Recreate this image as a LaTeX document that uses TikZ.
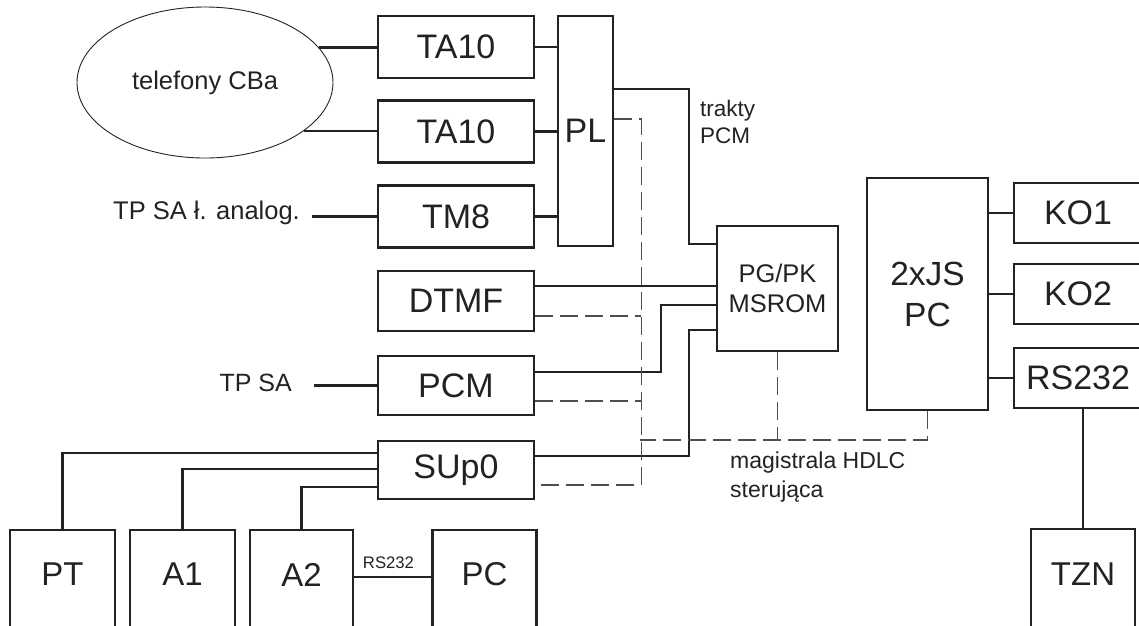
\documentclass[tikz,border=0pt]{standalone}
\usepackage{fontspec}
\setmainfont{Liberation Sans}
\usetikzlibrary{shapes.geometric,calc}
\definecolor{ink}{HTML}{222222}
\tikzset{
  box/.style={draw=ink, line width=2.4pt, rectangle, inner sep=0pt, text=ink, font=\fontsize{34}{40}\selectfont},
  wire/.style={draw=ink, line width=2.4pt},
  bus/.style={draw=ink!80, line width=1.1pt, dash pattern=on 18pt off 7pt},
  lbl/.style={text=ink, inner sep=0pt},
}
\begin{document}
\begin{tikzpicture}[x=1pt,y=-1pt]
\useasboundingbox (0,0) rectangle (1139,625);
% ellipse
\node[draw=ink, line width=0.9pt, ellipse, minimum width=256, minimum height=151, inner sep=0pt, text=ink, font=\fontsize{25.5}{30}\selectfont] (ell) at (205,82.5) {telefony CBa};
% left column
\node[box, minimum width=156, minimum height=62] (ta1) at (456,47) {TA10};
\node[box, minimum width=156, minimum height=62] (ta2) at (456,131.5) {TA10};
\node[box, minimum width=156, minimum height=62] (tm8) at (456,216.5) {TM8};
\node[box, minimum width=55, minimum height=230] (pl) at (585.5,131) {PL};
\node[box, minimum width=156, minimum height=60] (dtmf) at (456,301) {DTMF};
\node[box, minimum width=156, minimum height=59] (pcm) at (456,385.5) {PCM};
\node[box, minimum width=156, minimum height=58] (sup) at (456,470) {SUp0};
% centre
\node[box, minimum width=121, minimum height=125, align=center, font=\fontsize{25.5}{30}\selectfont] (pg) at (777.5,288.5) {PG/PK\\MSROM};
\node[box, minimum width=121, minimum height=232, align=center, font=\fontsize{33.5}{41}\selectfont] (js) at (927.5,294) {2xJS\\PC};
% right column
\node[box, minimum width=128, minimum height=60] (ko1) at (1078,213) {KO1};
\node[box, minimum width=128, minimum height=60] (ko2) at (1078,294) {KO2};
\node[box, minimum width=128, minimum height=60] (rs) at (1078,378) {RS232};
\node[box, minimum width=104, minimum height=130, anchor=north] (tzn) at (1083,528) {};
\node[lbl, font=\fontsize{33}{40}\selectfont] (tznt) at (1083,574.5) {TZN};
% bottom boxes
\node[box, minimum width=105, minimum height=130, anchor=north] (pt) at (62.5,529) {};
\node[box, minimum width=105, minimum height=130, anchor=north] (a1) at (182.5,529) {};
\node[box, minimum width=103, minimum height=130, anchor=north] (a2) at (301.5,529) {};
\node[box, minimum width=104, minimum height=130, anchor=north] (pc) at (484.5,529) {};
\node[lbl, font=\fontsize{33}{40}\selectfont] (ptt) at (62.5,574.5) {PT};
\node[lbl, font=\fontsize{33}{40}\selectfont] (a1t) at (182.5,574.5) {A1};
\node[lbl, font=\fontsize{33}{40}\selectfont] (a2t) at (301.5,574.5) {A2};
\node[lbl, font=\fontsize{33}{40}\selectfont] (pct) at (484.5,574.5) {PC};
% free labels
\node[lbl, anchor=east, font=\fontsize{25.5}{30}\selectfont] (tpa) at (300,213) {TP SA ł. analog.};
\node[lbl, anchor=east, font=\fontsize{25}{30}\selectfont] (tps) at (292,383) {TP SA};
\node[lbl, anchor=north west, align=left, font=\fontsize{22.5}{26.6}\selectfont] (trakty) at (700,100) {trakty\\PCM};
\node[lbl, anchor=north west, align=left, font=\fontsize{23}{29}\selectfont] (hdlc) at (730,452) {magistrala HDLC\\sterująca};
\node[lbl, font=\fontsize{16.7}{20}\selectfont] (rslbl) at (388.5,563) {RS232};
% solid connectors
\draw[wire] (ell.17.4) -- (ell.17.4 -| ta1.west);
\draw[wire] (ell.-26.3) -- (ell.-26.3 -| ta2.west);
\draw[wire] (tm8.west) -- ++(-65,0);
\draw[wire] (pcm.west) -- ++(-63,0);
\draw[wire] (ta1.east) -- (ta1.east -| pl.west);
\draw[wire] (ta2.east) -- (ta2.east -| pl.west);
\draw[wire] (tm8.east) -- (tm8.east -| pl.west);
\draw[wire] ($(pl.east)+(0,-42)$) -| ($(pg.west)+(-27,-44.5)$) -- ($(pg.west)+(0,-44.5)$);
\coordinate (dtmfout) at ($(dtmf.east)+(0,-15)$);
\draw[wire] (dtmfout) -- (dtmfout -| pg.west);
\draw[wire] ($(pcm.east)+(0,-13.5)$) -| ($(pg.west)+(-55,16.5)$) -- ($(pg.west)+(0,16.5)$);
\draw[wire] ($(sup.east)+(0,-14)$) -| ($(pg.west)+(-27,41.5)$) -- ($(pg.west)+(0,41.5)$);
\draw[wire] (ko1.west -| js.east) -- (ko1.west);
\draw[wire] (ko2.west -| js.east) -- (ko2.west);
\draw[wire] (rs.west -| js.east) -- (rs.west);
\draw[wire] (tzn.north) -- (tzn.north |- rs.south);
\draw[wire] ($(sup.west)+(0,-17)$) -| (pt.north);
\draw[wire] ($(sup.west)+(0,-1)$) -| (a1.north);
\draw[wire] ($(sup.west)+(0,17)$) -| (a2.north);
\draw[wire] ($(a2.north east)+(0,48)$) -- ($(pc.north west)+(0,48)$);
% dashed connectors
\coordinate (busL) at (640,440);
\draw[bus] ($(pl.east)+(0,-12)$) -| ($(sup.east)+(106,15)$) -- ($(sup.east)+(0,15)$);
\draw[bus] ($(dtmf.east)+(0,15)$) -- ($(dtmf.east)+(106,15)$);
\draw[bus] ($(pcm.east)+(0,15.5)$) -- ($(pcm.east)+(106,15.5)$);
\draw[bus] (js.south) |- (busL);
\draw[bus] (pg.south) -- (pg.south |- busL);
\end{tikzpicture}
\end{document}
